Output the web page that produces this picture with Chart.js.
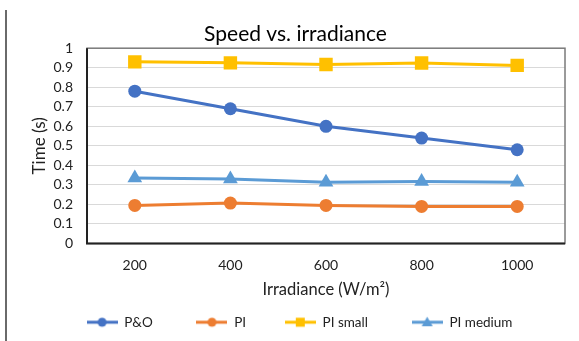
<!DOCTYPE html>
<html>
<head>
<meta charset="utf-8">
<script src="https://cdn.jsdelivr.net/npm/chart.js@4"></script>
<style>
  html, body { margin: 0; padding: 0; background: #fff; }
  #wrap { position: relative; width: 579px; height: 341px; }
  #frame { position: absolute; left: 5px; top: 10px; width: 0; height: 331px; border-left: 2px solid #6a6a6a; }
  canvas { position: absolute; left: 0; top: 0; }
</style>
</head>
<body>
<div id="wrap">
  <canvas id="c" width="579" height="341"></canvas>
  <div id="frame"></div>
</div>
<script>
const categories = ['200', '400', '600', '800', '1000'];
const seriesNames = ['P&O', 'PI', 'PI small', 'PI medium'];
const pAndO = [0.78, 0.69, 0.60, 0.54, 0.48];
const pi = [0.195, 0.207, 0.195, 0.19, 0.19];
const piSmall = [0.93, 0.925, 0.917, 0.924, 0.912];
const piMedium = [0.335, 0.33, 0.313, 0.318, 0.313];
const yTicks = [0, 0.1, 0.2, 0.3, 0.4, 0.5, 0.6, 0.7, 0.8, 0.9, 1];

const colors = ['#4472C4', '#ED7D31', '#FFC000', '#5B9BD5'];
const styles = ['circle', 'circle', 'rect', 'triangle'];
const radii = [6.5, 6.5, 9.5, 8.5];
const FONT = 'Lato, "Liberation Sans", sans-serif';
const GAPS = ['\u2002\u2002\u2002\u2002\u2002', '\u2002\u2002\u2002\u2002\u2009', '\u2002\u2002\u2002\u2002\u2002', ''];

function legendImage(color, style) {
  const lw = 31, h = 14;
  const cv = document.createElement('canvas');
  cv.width = lw; cv.height = h;
  const ctx = cv.getContext('2d');
  ctx.strokeStyle = color; ctx.lineWidth = 3;
  ctx.beginPath(); ctx.moveTo(0, h / 2); ctx.lineTo(lw, h / 2); ctx.stroke();
  ctx.fillStyle = color;
  const cx = lw / 2, cy = h / 2;
  ctx.beginPath();
  if (style === 'circle') ctx.arc(cx, cy, 4.5, 0, Math.PI * 2);
  else if (style === 'rect') ctx.rect(cx - 4.5, cy - 4.5, 9, 9);
  else { ctx.moveTo(cx, cy - 5.5); ctx.lineTo(cx + 5.5, cy + 4); ctx.lineTo(cx - 5.5, cy + 4); ctx.closePath(); }
  ctx.fill();
  return cv;
}

const dataArrays = [pAndO, pi, piSmall, piMedium];
const datasets = dataArrays.map((d, i) => ({
  label: seriesNames[i],
  data: d,
  borderColor: colors[i],
  backgroundColor: colors[i],
  borderWidth: 3,
  pointStyle: styles[i],
  pointRadius: radii[i],
  pointHoverRadius: radii[i],
  pointBorderWidth: 0,
  tension: 0,
  legendImg: legendImage(colors[i], styles[i])
}));

const borderPlugin = {
  id: 'plotBorder',
  afterLayout(chart) {
    if (chart.legend) { chart.legend.left += 4; chart.legend.right += 4; }
  },
  beforeDatasetsDraw(chart) {
    const a = chart.chartArea, ctx = chart.ctx;
    ctx.save();
    ctx.strokeStyle = '#7a7a7a'; ctx.lineWidth = 1.5;
    ctx.strokeRect(a.left, a.top, a.right - a.left, a.bottom - a.top);
    ctx.strokeStyle = '#222'; ctx.lineWidth = 2;
    ctx.beginPath(); ctx.moveTo(a.left, a.top); ctx.lineTo(a.left, a.bottom); ctx.lineTo(a.right, a.bottom); ctx.stroke();
    ctx.restore();
  }
};

new Chart(document.getElementById('c'), {
  type: 'line',
  data: { labels: categories, datasets },
  plugins: [borderPlugin],
  options: {
    responsive: false,
    animation: false,
    layout: { padding: { left: 26, right: 14, top: 0, bottom: 2 } },
    plugins: {
      title: {
        display: true,
        text: 'Speed vs. irradiance',
        color: '#000',
        font: { family: FONT, size: 21, weight: 'normal' },
        padding: { top: 22, bottom: 1 }
      },
      legend: {
        position: 'bottom',
        labels: {
          usePointStyle: true,
          pointStyleWidth: 31,
          color: '#222',
          font: { family: FONT, size: 13.5 },
          padding: 10,
          generateLabels(chart) {
            return chart.data.datasets.map((ds, i) => ({
              text: ds.label + GAPS[i],
              pointStyle: ds.legendImg,
              fillStyle: ds.borderColor,
              strokeStyle: ds.borderColor,
              lineWidth: 0,
              fontColor: '#222',
              datasetIndex: i,
              hidden: false
            }));
          }
        }
      },
      tooltip: { enabled: false }
    },
    scales: {
      x: {
        type: 'category',
        offset: true,
        grid: { display: false, drawTicks: false },
        border: { display: false },
        ticks: { color: '#222', font: { family: FONT, size: 14 }, padding: 14 },
        title: {
          display: true,
          text: 'Irradiance (W/m²)',
          color: '#222',
          font: { family: FONT, size: 16.5 },
          padding: { top: 4, bottom: 6 }
        },
        afterFit(s) { s.height = 62; }
      },
      y: {
        min: 0, max: 1,
        afterBuildTicks(s) { s.ticks = yTicks.map(v => ({ value: v })); },
        grid: { color: '#d9d9d9', lineWidth: 1, drawTicks: false },
        border: { display: false },
        ticks: {
          color: '#222', font: { family: FONT, size: 14 }, padding: 14,
          autoSkip: false,
          callback: v => String(v)
        },
        title: {
          display: true,
          text: 'Time (s)',
          color: '#222',
          font: { family: FONT, size: 17 },
          padding: { top: 3, bottom: 4 }
        },
        afterFit(s) { s.width = 61; }
      }
    }
  }
});
</script>
</body>
</html>
